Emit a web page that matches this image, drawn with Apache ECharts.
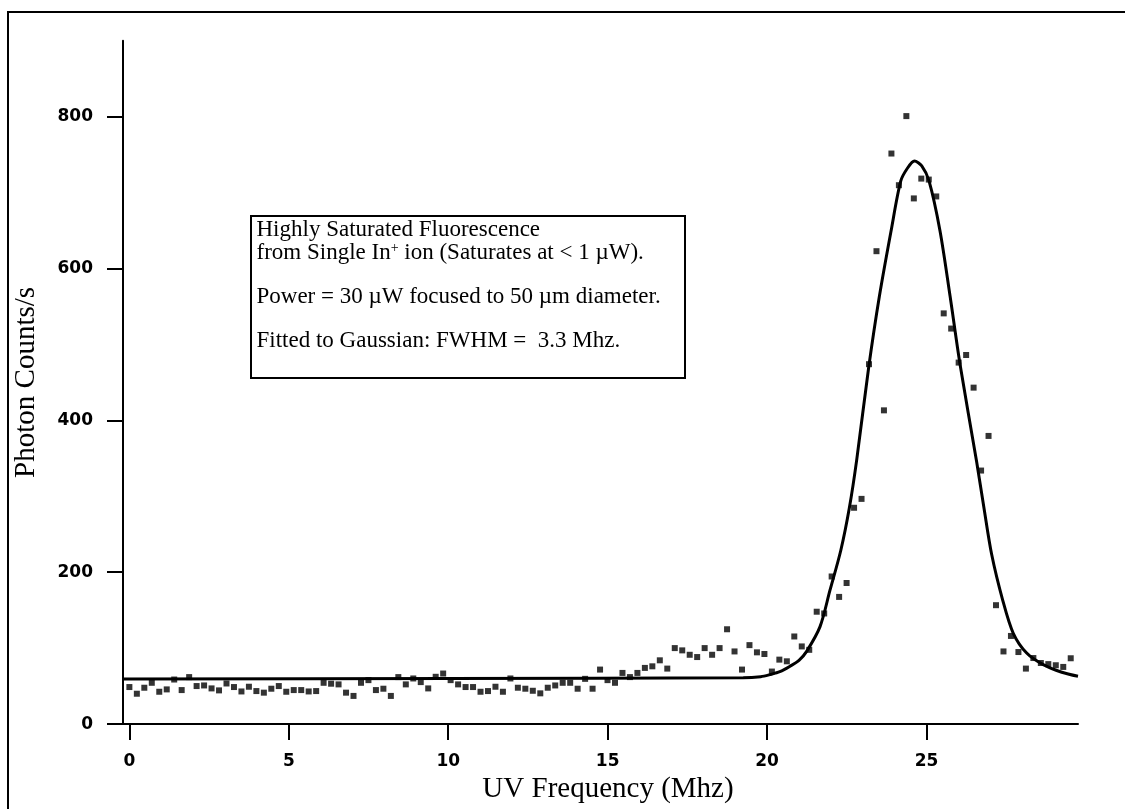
<!DOCTYPE html>
<html>
<head>
<meta charset="utf-8">
<script src="https://cdn.jsdelivr.net/npm/echarts@6/dist/echarts.min.js"></script>
<style>
html,body{margin:0;padding:0;background:#fff;}
#c{width:1125px;height:809px;}
</style>
</head>
<body>
<div id="c"></div>
<script>
// ---- data ----
const xStart = 0;          // MHz, first sample
const xStep = 0.2343;      // MHz, sample spacing
const counts = [
  48.8,40.0,47.9,54.4,42.6,45.7,58.7,44.8,61.9,50.1,50.9,47.0,44.4,53.5,48.8,43.0,
  49.2,43.5,41.4,46.6,50.1,42.6,44.8,44.8,43.0,43.5,54.4,53.2,52.3,41.4,37.1,
  54.4,57.9,44.8,46.6,37.1,61.9,52.3,60.1,55.3,47.0,62.3,66.6,57.9,52.3,48.8,48.8,
  42.6,43.5,49.2,42.6,60.1,47.9,46.6,43.9,40.5,47.9,50.9,54.4,54.4,46.6,59.6,46.6,
  71.8,57.9,54.4,
  67.4,61.9,67.4,74.0,76.1,84.0,73.1,100.1,97.1,91.3,88.3,100.1,91.3,100.1,124.9,
  95.7,71.8,104.0,94.5,92.3,69.2,84.9,82.7,115.4,102.3,97.8,148.0,145.7,194.4,167.5,185.8,
  284.9,296.6,474.0,622.8,413.2,751.4,709.7,800.7,692.3,718.4,717.1,694.9,540.9,520.9,
  476.1,486.1,443.1,333.9,379.5,
  156.6,95.7,116.1,94.9,73.1,87.0,80.5,79.0,77.5,75.3,86.7,64.0
];
const fitX = [-0.2, 10, 19.25, 19.8, 20.09, 20.4, 20.72, 21.0, 21.24, 21.66, 21.97, 22.31, 22.58, 22.81,
  23.18, 23.52, 23.89, 24.19, 24.4, 24.62, 24.85, 25.08, 25.42, 25.74, 26.05, 26.57, 26.8, 27.04,
  27.39, 27.72, 28.14, 28.66, 29.24, 29.75];
const fitY = [59.5, 60, 61, 62.5, 65.2, 69, 76.2, 84, 95.8, 128.4, 176, 228.6, 284.9, 348,
  468, 563, 650, 715, 732, 741.5, 735, 715, 650, 563, 474, 345.7, 285, 224,
  163, 119.6, 93.6, 78.3, 68.3, 63];
const xTicks = [0, 5, 10, 15, 20, 25];
const yTicks = [0, 200, 400, 600, 800];
const xTitle = 'UV Frequency (Mhz)';
const yTitle = 'Photon Counts/s';
const noteLines = [
  'Highly Saturated Fluorescence',
  'from Single In{sup|+} ion (Saturates at < 1 \u00B5W).',
  'Power = 30 \u00B5W focused to 50 \u00B5m diameter.',
  'Fitted to Gaussian: FWHM =  3.3 Mhz.'
];

// ---- build chart ----
const points = counts.map((v, i) => [xStart + i * xStep, v]);
const fit = fitX.map((x, i) => [x, fitY[i]]);

const serif = '"Liberation Serif", "Times New Roman", serif';
const chart = echarts.init(document.getElementById('c'), null, {renderer: 'canvas'});

const noteY = [230.3, 253, 297.3, 341.3];
const noteGraphics = noteLines.map((t, i) => ({
  type: 'text',
  silent: true,
  style: {
    x: 256.5, y: noteY[i],
    text: t,
    font: '23px ' + serif,
    fill: '#000',
    align: 'left',
    verticalAlign: 'middle',
    rich: {
      sup: {font: '14px ' + serif, fill: '#000', verticalAlign: 'top'}
    }
  }
}));

chart.setOption({
  animation: false,
  backgroundColor: '#fff',
  grid: {left: 123, right: 47, top: 40.7, bottom: 77.3, containLabel: false},
  xAxis: {
    type: 'value',
    min: -0.2, max: 29.75,
    name: xTitle,
    nameLocation: 'middle',
    nameGap: 44,
    nameTextStyle: {fontFamily: 'Liberation Serif', fontSize: 29, color: '#000', padding: [0, 0, 0, 15]},
    axisLine: {show: true, onZero: false, lineStyle: {color: '#000', width: 2}},
    axisTick: {show: true, inside: false, length: 16, lineStyle: {color: '#000', width: 2}, customValues: xTicks},
    axisLabel: {show: true, margin: 29, fontFamily: 'DejaVu Sans', fontWeight: 'bold', fontSize: 17, color: '#000', customValues: xTicks},
    splitLine: {show: false}
  },
  yAxis: {
    type: 'value',
    min: 0, max: 900,
    name: yTitle,
    nameLocation: 'middle',
    nameGap: 82,
    nameTextStyle: {fontFamily: 'Liberation Serif', fontSize: 29, color: '#000'},
    axisLine: {show: true, onZero: false, lineStyle: {color: '#000', width: 2}},
    axisTick: {show: true, inside: false, length: 16, lineStyle: {color: '#000', width: 2}, customValues: yTicks},
    axisLabel: {show: true, margin: 30, fontFamily: 'DejaVu Sans', fontWeight: 'bold', fontSize: 17, color: '#000', customValues: yTicks},
    splitLine: {show: false}
  },
  series: [
    {
      type: 'line',
      data: fit,
      smooth: 0.3,
      showSymbol: false,
      lineStyle: {color: '#000', width: 3},
      z: 2
    },
    {
      type: 'scatter',
      data: points,
      symbol: 'rect',
      symbolSize: 6,
      itemStyle: {color: '#000'},
      z: 3
    }
  ],
  graphic: [
    {type: 'rect', silent: true, shape: {x: 8, y: 12, width: 1300, height: 1000},
     style: {fill: 'none', stroke: '#000', lineWidth: 2}},
    {type: 'rect', silent: true, shape: {x: 251, y: 216, width: 434, height: 162},
     style: {fill: '#fff', stroke: '#000', lineWidth: 2}},
    ...noteGraphics
  ]
});
</script>
</body>
</html>
